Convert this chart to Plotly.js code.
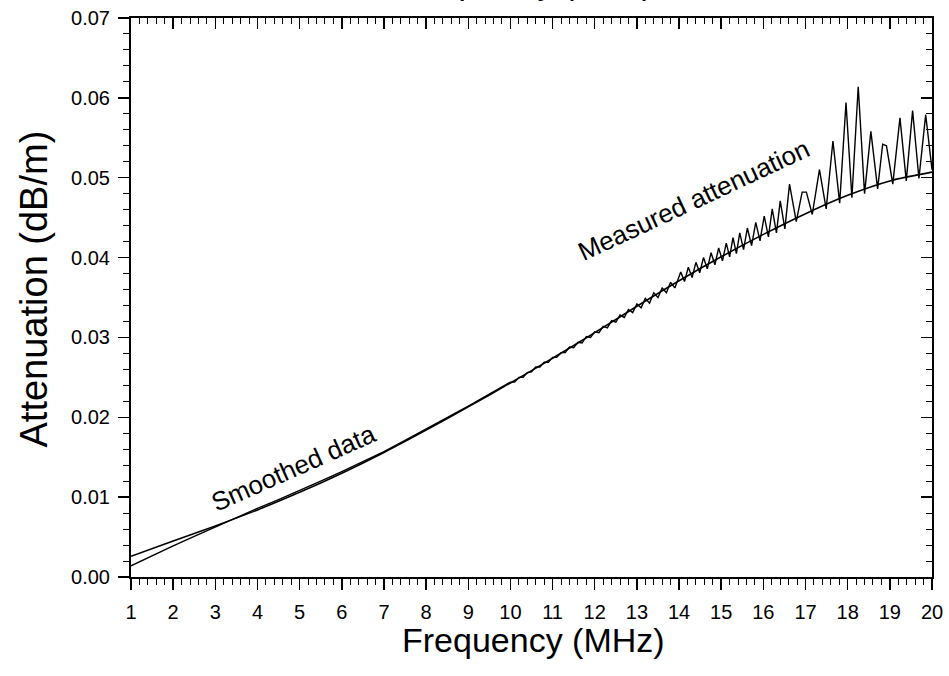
<!DOCTYPE html>
<html>
<head>
<meta charset="utf-8">
<script src="https://cdn.plot.ly/plotly-3.0.1.min.js"></script>
<style>html,body{margin:0;padding:0;background:#fff;}#chart{width:949px;height:676px;}</style>
</head>
<body>
<div id="chart"></div>
<script>
// Smoothed curve (MHz, dB/m)
const freqSmooth = [1,2,3,4,5,6,7,8,9,10,11,12,13,14,15,16,17,18,19,20];
const attSmooth = [0.0026,0.0045,0.0064,0.0084,0.0106,0.0130,0.0156,0.0184,0.0213,0.0243,0.0274,0.0306,0.0339,0.0371,0.0401,0.0429,0.0455,0.0478,0.0496,0.0507];

// Measured attenuation (MHz, dB/m)
const freqMeas = [1,1.5,2,2.5,3,3.5,4,4.5,5,5.5,6,6.5,7,7.5,8,8.5,9,9.5,10,
  10.1,10.2,10.3,10.4,10.5,10.6,10.7,10.8,10.9,11.0,11.1,11.2,11.3,11.4,11.5,11.6,11.7,11.8,11.9,
  12.0,12.1,12.2,12.3,12.4,12.5,12.6,12.7,12.8,12.9,13.0,13.1,13.2,13.3,13.4,13.5,13.6,13.7,13.8,13.9,
  14.04,14.13,14.22,14.31,14.40,14.49,14.58,14.67,14.76,14.85,14.94,15.03,15.12,15.20,15.28,15.36,
  15.44,15.53,15.62,15.72,15.82,15.92,16.02,16.12,16.21,16.31,16.40,16.51,16.62,16.78,16.92,17.02,
  17.16,17.33,17.49,17.65,17.81,17.96,18.10,18.25,18.40,18.55,18.71,18.83,18.92,19.07,19.24,19.39,
  19.54,19.69,19.85,20.00];
const attMeas = [0.0014,0.0027,0.0039,0.0051,0.0063,0.0075,0.0086,0.0097,0.0108,0.0120,0.0132,0.0144,0.0157,0.0171,0.0185,0.0199,0.0214,0.0229,0.0244,
  0.0244,0.0250,0.0250,0.0256,0.0257,0.0263,0.0263,0.0269,0.0269,0.0275,0.0275,0.0281,0.0281,0.0288,0.0287,0.0294,0.0293,0.0301,0.0300,
  0.0307,0.0306,0.0314,0.0312,0.0321,0.0319,0.0328,0.0325,0.0335,0.0331,0.0342,0.0337,0.0349,0.0343,0.0356,0.0350,0.0362,0.0356,0.0369,0.0362,
  0.0382,0.0370,0.0388,0.0375,0.0394,0.0381,0.0400,0.0386,0.0406,0.0391,0.0412,0.0396,0.0418,0.0401,0.0425,0.0405,
  0.0431,0.0410,0.0437,0.0415,0.0444,0.0421,0.0452,0.0426,0.0461,0.0431,0.0471,0.0436,0.0492,0.0445,0.0482,0.0482,
  0.0454,0.0510,0.0461,0.0546,0.0468,0.0594,0.0475,0.0614,0.0480,0.0558,0.0486,0.0542,0.0540,0.0492,0.0575,0.0496,
  0.0584,0.0499,0.0579,0.0510];

const xTickVals = [1,2,3,4,5,6,7,8,9,10,11,12,13,14,15,16,17,18,19,20];
const yTickVals = [0,0.01,0.02,0.03,0.04,0.05,0.06,0.07];
const labelSmooth = "Smoothed data";
const labelMeas = "Measured attenuation";
const topTitle = "Frequency (MHz)";
const xTitle = "Frequency (MHz)";
const yTitle = "Attenuation (dB/m)";

const FONT = "Liberation Sans, Arial, Helvetica, sans-serif";

const traces = [
  {x: freqMeas, y: attMeas, type: 'scatter', mode: 'lines', line: {color: '#000', width: 1.4}, hoverinfo: 'skip', showlegend: false},
  {x: freqSmooth, y: attSmooth, type: 'scatter', mode: 'lines', line: {color: '#000', width: 1.6, shape: 'spline', smoothing: 0.8}, hoverinfo: 'skip', showlegend: false, xaxis: 'x2', yaxis: 'y2'}
];

const common = {showline: true, linecolor: '#000', linewidth: 2, showgrid: false, zeroline: false,
  tickcolor: '#000', tickwidth: 1.5, ticklen: 11};

const layout = {
  width: 949, height: 676,
  margin: {l: 131, r: 17, t: 18, b: 99, pad: 0},
  paper_bgcolor: '#fff', plot_bgcolor: '#fff',
  font: {family: FONT, color: '#000'},
  xaxis: Object.assign({}, common, {
    range: [1, 20], tickvals: xTickVals, ticks: 'outside',
    tickfont: {size: 20, family: FONT, color: '#000'},
    ticklabelstandoff: 5,
    minor: {dtick: 0.2, tick0: 1, ticks: 'outside', ticklen: 6, tickwidth: 1, tickcolor: '#000', showgrid: false}
  }),
  yaxis: Object.assign({}, common, {
    range: [0, 0.07], tickvals: yTickVals, tickformat: '.2f', ticks: 'outside',
    tickfont: {size: 20, family: FONT, color: '#000'},
    ticklabelstandoff: 4,
    minor: {dtick: 0.002, tick0: 0, ticks: 'outside', ticklen: 6, tickwidth: 1, tickcolor: '#000', showgrid: false}
  }),
  xaxis2: Object.assign({}, common, {
    overlaying: 'x', side: 'top', anchor: 'y2',
    range: [1, 20], tickvals: xTickVals, ticks: 'inside', showticklabels: false,
    minor: {dtick: 0.2, tick0: 1, ticks: 'inside', ticklen: 6, tickwidth: 1, tickcolor: '#000', showgrid: false}
  }),
  yaxis2: Object.assign({}, common, {
    overlaying: 'y', side: 'right', anchor: 'x2',
    range: [0, 0.07], tickvals: yTickVals, ticks: 'inside', showticklabels: false,
    minor: {dtick: 0.002, tick0: 0, ticks: 'inside', ticklen: 6, tickwidth: 1, tickcolor: '#000', showgrid: false}
  }),
  annotations: [
    {text: xTitle, x: 0.5, y: -0.1130, xref: 'paper', yref: 'paper', xanchor: 'center', yanchor: 'middle', xshift: 2,
     showarrow: false, font: {size: 34, family: FONT, color: '#000'}},
    {text: yTitle, x: 0, y: 0.5, xref: 'paper', yref: 'paper', xanchor: 'center', yanchor: 'middle', xshift: -98, yshift: 8,
     textangle: -90, showarrow: false, font: {size: 38, family: FONT, color: '#000'}},
    {text: labelSmooth, x: 4.85, y: 0.0137, xref: 'x', yref: 'y', showarrow: false, textangle: -24,
     font: {size: 26, family: FONT, color: '#000'}},
    {text: labelMeas, x: 14.35, y: 0.0472, xref: 'x', yref: 'y', showarrow: false, textangle: -25,
     font: {size: 26, family: FONT, color: '#000'}},
    {text: topTitle, x: 0.5, y: 1.026, xref: 'paper', yref: 'paper', xanchor: 'center', yanchor: 'bottom', xshift: -6,
     showarrow: false, font: {size: 33, family: FONT, color: '#000'}}
  ]
};

Plotly.newPlot('chart', traces, layout, {displayModeBar: false, staticPlot: true});
</script>
</body>
</html>
